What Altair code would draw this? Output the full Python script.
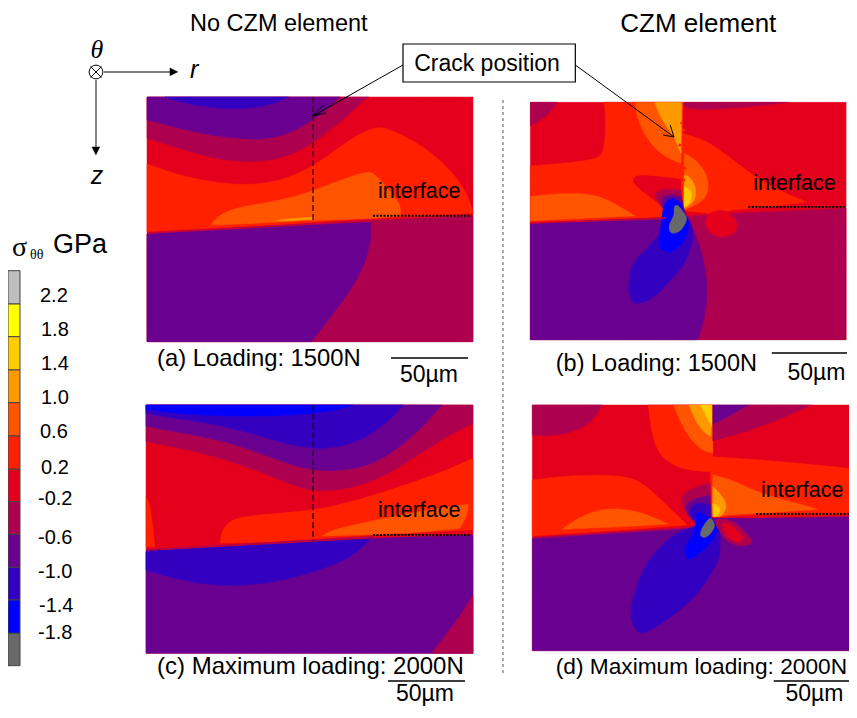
import altair as alt
import pandas as pd

FONT = "Liberation Sans"
GRAY_HI, YEL, AMB, ORG, DOR, RO, RED, MAG, PUR, IND, BLU, GRAY_LO = (
    "#bebebe", "#ffff00", "#ffcc00", "#ff9900", "#ff5500", "#ff2000",
    "#e4001c", "#ad004f", "#6a0090", "#3300c0", "#0000ff", "#696969")

# Legend
LEGEND_COLORS = [GRAY_HI, YEL, AMB, ORG, DOR, RO, RED, MAG, PUR, IND, BLU, GRAY_LO]
LEGEND_EDGES = [270.7, 304, 336.7, 370, 402.7, 436, 469.3, 501.7, 534.3, 567.3, 600, 633.3, 665.7]
LEGEND_LABELS = ["2.2", "1.8", "1.4", "1.0", "0.6", "0.2", "-0.2", "-0.6", "-1.0", "-1.4", "-1.8"]
LEGEND_LABEL_Y = [296, 330, 364, 398, 432, 468, 499, 538, 572, 606, 633]
LEGEND_LABEL_X = [40, 41, 41, 41, 40, 41, 38, 38, 38, 39, 38]

# Contour regions, painter's order: (colour, outline); a third item marks a sharp corner
PANEL_A = (140, 90, [
    (RED, [(21,21),(999,21),(999,755),(21,755)]),
    (MAG, [(21,432),(400,405,1),(690,392,1),(999,378),(999,755),(21,755)]),
    (PUR, [(21,432),(400,408,1),(690,395,1),(695,440),(680,510),(640,590),(580,670),(515,755),(21,755)]),
    (RO, [(21,222),(100,250),(200,275),(320,287),(420,275),(520,230),(600,170),(660,130),(705,112),(735,113),(800,140),(880,190),(950,260),(985,320),(999,365),(999,370),(700,385,1),(400,405,1),(21,425)]),
    (DOR, [(212,405,1),(235,375),(290,352),(400,335),(490,315),(600,270),(685,243),(700,248),(740,290),(785,345),(780,378,1),(700,385,1),(500,392,1),(300,402,1)]),
    (ORG, [(410,392,1),(450,385),(520,382,1),(520,388,1),(450,392,1)]),
    (MAG, [(21,88),(21,145),(100,170),(200,200),(300,218),(400,212),(480,185),(560,130),(620,80),(660,40),(685,21),(21,21)]),
    (PUR, [(21,21),(21,90),(100,110),(200,135),(340,152),(420,140),(480,115),(540,75),(580,40),(600,21)]),
    (IND, [(75,21),(150,45),(280,60),(380,50),(445,21)]),
])
PANEL_B = (525, 90, [
    (RED, [(18,37),(987,37),(987,749),(18,749)]),
    (MAG, [(18,395),(480,380,1),(640,370,1),(987,355),(987,749),(18,749)]),
    (PUR, [(18,400),(460,388,1),(500,380,1),(530,440),(555,530),(562,600),(555,680),(532,749),(18,749)]),
    (RO, [(18,228),(220,212),(245,190),(250,100),(245,37),(485,37),(485,130,1),(560,150),(640,210),(720,270),(800,310),(865,335,1),(800,345,1),(640,360,1),(580,372,1),(490,362,1),(440,380,1),(18,400)]),
    (RED, [(555,395),(570,370),(610,362),(640,380),(652,405),(640,430),(600,440),(570,425)]),
    (DOR, [(18,320),(100,310),(200,310),(260,330),(340,378,1),(18,392)]),
    (MAG, [(18,37),(100,37),(70,80),(18,108)]),
    (MAG, [(490,37),(810,37),(700,50),(600,57),(490,60)]),
    (DOR, [(340,37),(345,90),(390,170),(440,205),(480,220,1),(485,37)]),
    (ORG, [(400,37),(420,90),(460,140),(480,190,1),(482,37)]),
    (DOR, [(490,190,1),(530,210),(565,260),(565,310),(540,340),(490,360,1)]),
    (ORG, [(490,255,1),(510,260),(530,300),(520,340),(490,355,1)]),
    (AMB, [(490,290,1),(515,300),(510,340),(490,350,1)]),
    (RED, [(328,262),(360,253),(480,268,1),(480,350,1),(450,370,1),(400,330),(340,290)]),
    (MAG, [(390,310),(430,295),(480,300,1),(485,350,1),(450,378,1),(420,350)]),
    (PUR, [(410,330),(440,310),(482,320,1),(488,352,1),(500,385,1),(440,385,1)]),
    (IND, [(320,580),(335,520),(380,470),(420,420),(430,345),(480,335),(490,385),(510,400),(515,450),(490,520),(440,580),(390,625),(345,640),(325,620)]),
    (BLU, [(430,345),(455,325),(480,345),(490,370),(505,400),(490,450),(450,485),(420,475),(415,440),(420,400)]),
    (GRAY_LO, [(445,405),(458,375),(460,350),(472,348),(490,370),(497,390),(480,420),(455,430),(445,420)]),
])
PANEL_C = (140, 400, [
    (RED, [(18,15),(999,15),(999,760),(18,760)]),
    (PUR, [(18,455),(700,415,1),(999,405),(999,760),(18,760)]),
    (MAG, [(875,760),(920,700),(960,650),(999,585),(999,760)]),
    (IND, [(18,453),(690,418,1),(640,470),(540,510),(420,545),(300,558),(200,555),(100,535),(18,510)]),
    (RO, [(240,430,1),(245,390),(270,360),(330,345),(500,335),(620,310),(750,270),(900,220),(999,175),(999,390),(700,405,1),(400,425,1)]),
    (RO, [(18,290),(30,310),(38,380),(45,440,1),(18,442)]),
    (DOR, [(548,408,1),(570,392),(640,375),(800,340),(985,312,1),(985,340),(960,385,1),(800,400,1)]),
    (MAG, [(18,15),(18,125),(100,140),(250,175),(400,230),(500,275),(600,272),(700,245),(800,190),(900,120),(999,70),(999,15)]),
    (PUR, [(18,15),(18,78),(100,95),(250,120),(400,175),(500,210),(600,215),(700,195),(780,140),(850,80),(905,15)]),
    (IND, [(18,15),(18,40),(100,55),(250,75),(400,120),(510,150),(620,140),(700,100),(760,50),(790,15)]),
    (BLU, [(18,15),(18,28),(150,45),(350,50),(510,42),(590,30),(640,15)]),
])
PANEL_D = (525, 400, [
    (RED, [(24,15),(997,15),(997,752),(24,752)]),
    (PUR, [(24,415),(500,385,1),(540,370,1),(575,355,1),(700,355,1),(997,350),(997,752),(24,752)]),
    (RO, [(380,15),(578,15),(578,170,1),(700,178),(850,190),(997,205),(997,345),(700,345,1),(600,350,1),(575,345,1),(570,215,1),(510,212),(450,195),(410,160),(390,100)]),
    (DOR, [(458,15),(480,70),(510,120),(550,155),(578,158,1),(578,15)]),
    (ORG, [(505,15),(530,75),(560,105),(572,108,1),(575,15)]),
    (AMB, [(540,15),(575,80,1),(575,15)]),
    (DOR, [(578,225,1),(640,240),(720,280),(820,305),(900,328,1),(720,340,1),(620,345,1),(600,350,1),(578,350,1)]),
    (ORG, [(578,260,1),(610,290),(625,325),(600,350,1),(578,350,1)]),
    (AMB, [(578,310,1),(600,320),(600,345),(580,350,1)]),
    (MAG, [(24,15),(240,15),(210,60),(170,90),(100,108),(24,105)]),
    (PUR, [(578,15),(690,15),(600,65),(578,72,1)]),
    (MAG, [(690,15),(880,15),(800,50),(700,90),(578,122,1),(578,72,1),(600,65)]),
    (RO, [(24,240),(150,225),(300,225),(360,245),(420,300),(500,375,1),(300,390,1),(24,408)]),
    (DOR, [(115,388,1),(170,350),(230,328),(300,325),(370,340),(440,372,1),(300,380,1)]),
    (MAG, [(470,290),(520,260),(570,250,1),(570,345,1),(540,370,1),(500,350)]),
    (PUR, [(490,310),(530,295),(570,285,1),(570,350,1),(540,380,1),(500,350)]),
    (MAG, [(590,360),(640,365),(690,410),(695,430),(660,437),(620,420),(590,380)]),
    (RED, [(610,370),(640,380),(670,415),(650,425),(620,405)]),
    (IND, [(330,660),(330,610),(370,500),(440,420),(510,385),(590,385),(600,430),(590,490),(530,580),(450,650),(370,697),(345,690)]),
    (IND, [(505,325),(530,305),(570,315,1),(572,350,1),(540,375),(510,355)]),
    (BLU, [(497,465),(495,440),(520,395),(530,340),(560,350),(575,355),(590,390),(570,430),(530,465),(505,477)]),
    (GRAY_LO, [(540,405),(548,380),(570,355),(583,375),(575,395),(555,412)]),
])
PANELS = [PANEL_A, PANEL_B, PANEL_C, PANEL_D]

# Speckle along the open crack in panel (b), in pixels
CRACK_X = [686, 688, 684, 690, 687, 689, 687, 688]
CRACK_Y = [123, 130, 145, 150, 157, 168, 173, 180]

# Straight strokes: ((x1,y1),(x2,y2),colour,width,dash)
STROKES = [
    ((147,233),(370,221),"#c8003a",1.5,None),
    ((531,223),(670,218),"#c8003a",1.5,None),
    ((146,550),(373,537),"#b0004f",1.5,None),
    ((533,538),(690,528),"#b0004f",1.5,None),
    ((403,65),(313,116),"#000000",1,None),
    ((577,65),(678,137),"#000000",1,None),
    ((312,116),(324,105),"#000000",1,None),
    ((312,116),(326,113),"#000000",1,None),
    ((678,137),(667,135),"#000000",1,None),
    ((678,137),(674,125),"#000000",1,None),
    ((313,97),(313,223),"#40001a",1.3,[6,3]),
    ((313,405),(313,541),"#20002a",1.3,[6,3]),
    ((373,215.7),(472,215.7),"#000000",2,[2,1.5]),
    ((754,207),(853,207),"#000000",2,[2,1.5]),
    ((373,535),(472,535),"#000000",2,[2,1.5]),
    ((762,514),(857,514),"#000000",2,[2,1.5]),
    ((391,358),(468,358),"#000000",1.5,None),
    ((778,353),(855,353),"#000000",1.5,None),
    ((388,681),(465,681),"#000000",1.5,None),
    ((780,681),(857,681),"#000000",1.5,None),
    ((503,100),(503,675),"#555555",1,[3,3]),
    ((104,72),(176,72),"#000000",1.2,None),
    ((96,80),(96,152),"#333333",1.2,None),
    ((90.5,66.5),(101.5,77.5),"#000000",1,None),
    ((101.5,66.5),(90.5,77.5),"#000000",1,None),
]
# Solid arrow heads on the two coordinate axes
HEADS = [
    [(178,72),(170,68),(170,76)],
    [(96,155),(92,147),(100,147)],
]
BOX_X = [403, 577]
BOX_Y = [44, 82]
COIL_X, COIL_Y = [96], [72]

# Text: (string, x, y, size, align, italic, font)
SERIF = "Liberation Serif"
TEXTS = [
    ("No CZM element", 190, 24, 23.5, "left", False, FONT),
    ("CZM element", 623, 24, 26, "left", False, FONT),
    ("Crack position", 487, 64, 23, "center", False, FONT),
    ("(a) Loading:  1500N", 157, 359, 23.8, "left", False, FONT),
    ("(b) Loading:  1500N", 557, 364, 23.5, "left", False, FONT),
    ("(c) Maximum loading: 2000N", 157, 667, 24, "left", False, FONT),
    ("(d) Maximum loading: 2000N", 557, 667, 22.7, "left", False, FONT),
    ("50µm", 400, 375, 23, "left", False, FONT),
    ("50µm", 794, 373, 23, "left", False, FONT),
    ("50µm", 396, 694, 23, "left", False, FONT),
    ("50µm", 792, 694, 23, "left", False, FONT),
    ("interface", 378, 192, 21.5, "left", False, FONT),
    ("interface", 759, 184, 21.5, "left", False, FONT),
    ("interface", 378, 511, 21.5, "left", False, FONT),
    ("interface", 767, 491, 21.5, "left", False, FONT),
    ("θ", 97, 50, 26, "center", True, SERIF),
    ("r", 190, 70, 25, "left", True, FONT),
    ("z", 97, 176, 25, "center", True, FONT),
    ("σ", 12, 248, 28, "left", False, SERIF),
    ("θθ", 30, 255, 14, "left", False, SERIF),
    ("GPa", 53, 245, 27, "left", False, FONT),
]

W, H = 841, 698
# The page keeps an 8px margin, so the right column is eased into the width left over
xs = alt.Scale(domain=[8, 503, 857], range=[0, 495, W], nice=False, zero=False)
ys = alt.Scale(domain=[8, 8 + H], range=[0, H], nice=False, zero=False)
X = alt.X("x:Q", scale=xs, axis=None)
Y = alt.Y("y:Q", scale=ys, axis=None)

layers = []


def polygon(points, colour, interpolate="linear"):
    df = pd.DataFrame({"x": [p[0] for p in points], "y": [p[1] for p in points],
                       "i": list(range(len(points)))})
    return alt.Chart(df).mark_line(fill=colour, stroke=colour, strokeWidth=0.5,
                                   interpolate=interpolate).encode(x=X, y=Y, order="i:Q")


def rect(x0, x1, y0, y1, **kw):
    df = pd.DataFrame({"x": [x0], "x2": [x1], "y": [y0], "y2": [y1]})
    return alt.Chart(df).mark_rect(**kw).encode(x=X, x2="x2:Q", y=Y, y2="y2:Q")


for ox, oy, regions in PANELS:
    box = regions[0][1]
    x0, x1 = min(p[0] for p in box), max(p[0] for p in box)
    y0, y1 = min(p[1] for p in box), max(p[1] for p in box)
    for colour, pts in regions:
        outline = []
        any_sharp = False
        for p in pts:
            q = (ox + p[0] / 3, oy + p[1] / 3)
            sharp = len(p) == 3 or p[0] in (x0, x1) or p[1] in (y0, y1)
            any_sharp = any_sharp or sharp
            outline += [q, q, q] if sharp else [q]
        # Free blobs pass through their points; outlines with corners stay inside them
        layers.append(polygon(outline, colour, "basis-closed" if any_sharp else "cardinal-closed"))

layers.append(alt.Chart(pd.DataFrame({"x": CRACK_X, "y": CRACK_Y})).mark_point(
    shape="circle", size=10, filled=True, color=RO, opacity=1).encode(x=X, y=Y))

legend_df = pd.DataFrame({"y": LEGEND_EDGES[:-1], "y2": LEGEND_EDGES[1:], "c": LEGEND_COLORS,
                          "x": [8] * 12, "x2": [20] * 12})
layers.append(alt.Chart(legend_df).mark_rect(stroke="#444444", strokeWidth=1).encode(
    x=X, x2="x2:Q", y=Y, y2="y2:Q", fill=alt.Fill("c:N", scale=None)))

layers.append(rect(BOX_X[0], BOX_X[1], BOX_Y[0], BOX_Y[1], fill="#ffffff", stroke="#000000", strokeWidth=1.2))

for a, b, col, w, dash in STROKES:
    df = pd.DataFrame({"x": [a[0], b[0]], "y": [a[1], b[1]], "i": [0, 1]})
    kw = {"strokeDash": dash} if dash else {}
    layers.append(alt.Chart(df).mark_line(color=col, strokeWidth=w, **kw).encode(x=X, y=Y, order="i:Q"))

for pts in HEADS:
    layers.append(polygon(pts, "#000000"))

layers.append(alt.Chart(pd.DataFrame({"x": COIL_X, "y": COIL_Y})).mark_point(
    shape="circle", size=190, filled=False, color="#000000", strokeWidth=1, opacity=1).encode(x=X, y=Y))

for s, tx, ty in zip(LEGEND_LABELS, LEGEND_LABEL_X, LEGEND_LABEL_Y):
    layers.append(alt.Chart(pd.DataFrame({"x": [tx], "y": [ty], "t": [s]})).mark_text(
        font=FONT, fontSize=20, align="left", baseline="middle", color="#000000").encode(x=X, y=Y, text="t:N"))

for s, tx, ty, size, al, ital, fnt in TEXTS:
    kw = {"fontStyle": "italic"} if ital else {}
    layers.append(alt.Chart(pd.DataFrame({"x": [tx], "y": [ty], "t": [s]})).mark_text(
        font=fnt, fontSize=size, align=al, baseline="middle", color="#000000", **kw).encode(x=X, y=Y, text="t:N"))

chart = alt.layer(*layers).properties(width=W, height=H, padding=0, autosize="none",
                                      background="#ffffff").configure_view(stroke=None)
chart.save("out.html", embed_options={"renderer": "svg", "actions": False})
